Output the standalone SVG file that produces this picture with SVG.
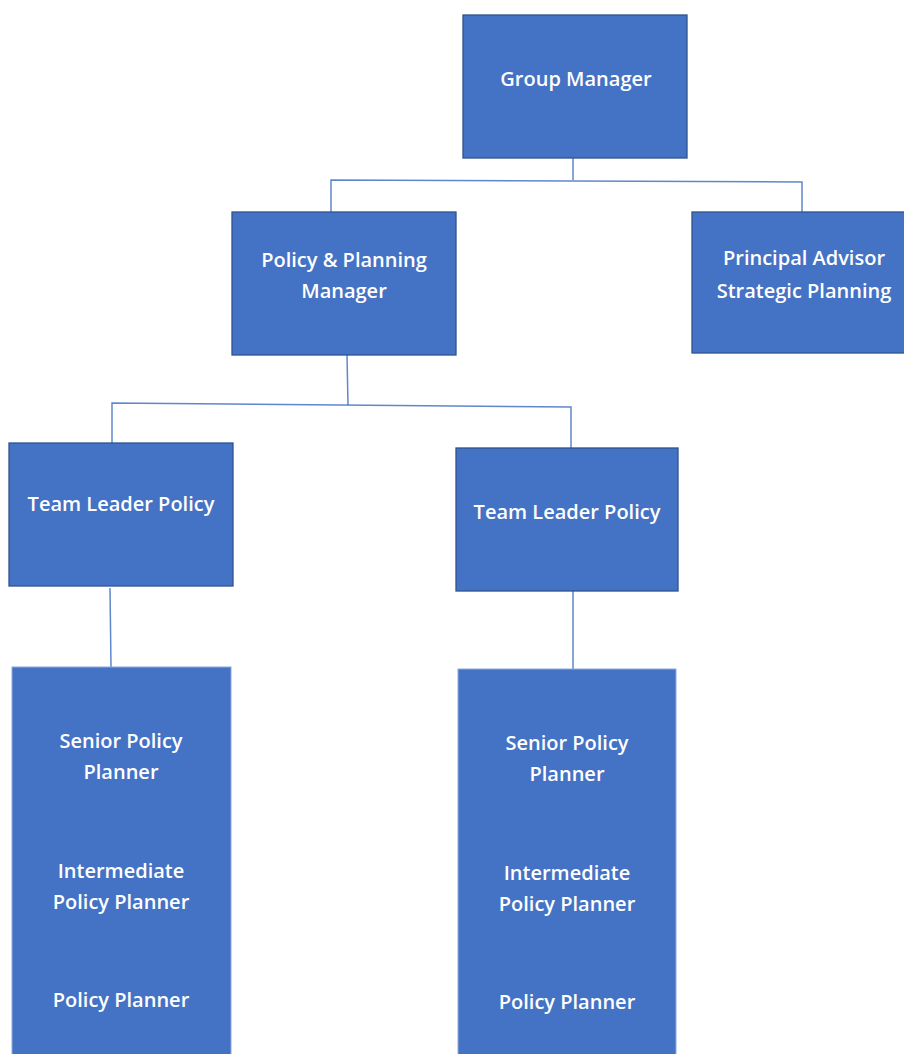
<svg xmlns="http://www.w3.org/2000/svg" width="904" height="1054" viewBox="0 0 904 1054">
<style>
.box{fill:#4472C4;stroke:#2F528F;stroke-width:1.3}
.box2{fill:#4472C4;stroke:#8FAADC;stroke-width:1}
.t{font-family:"Open Sans",Lato,sans-serif;font-size:20px;font-weight:600;fill:#FFFFFF;text-anchor:middle}
.c{fill:none;stroke:#4472C4;stroke-width:1.5;stroke-opacity:0.85}
</style>
<rect width="904" height="1054" fill="#FFFFFF"/>
<g id="connectors">
<polyline class="c" points="573,158 573,180"/>
<polyline class="c" points="331,212 331,180 802,182 802,212"/>
<polyline class="c" points="347,355 348,405"/>
<polyline class="c" points="112,443 112,403 571,407 571,448"/>
<polyline class="c" points="110,588 111,667"/>
<polyline class="c" points="573,591 573,669"/>
</g>
<g id="group-manager">
<rect class="box" x="463" y="15" width="224" height="143"/>
<text class="t" x="576" y="86">Group Manager</text>
</g>
<g id="policy-planning-manager">
<rect class="box" x="232" y="212" width="224" height="143"/>
<text class="t" x="344" y="267">Policy &amp; Planning</text>
<text class="t" x="344" y="298">Manager</text>
</g>
<g id="principal-advisor">
<rect class="box" x="692" y="212" width="220" height="141"/>
<text class="t" x="804" y="265">Principal Advisor</text>
<text class="t" x="804" y="298">Strategic Planning</text>
</g>
<g id="team-leader-1">
<rect class="box" x="9" y="443" width="224" height="143"/>
<text class="t" x="121" y="511">Team Leader Policy</text>
</g>
<g id="team-leader-2">
<rect class="box" x="456" y="448" width="222" height="143"/>
<text class="t" x="567" y="519">Team Leader Policy</text>
</g>
<g id="planners-1">
<rect class="box2" x="12" y="667" width="219" height="400"/>
<text class="t" x="121" y="748">Senior Policy</text>
<text class="t" x="121" y="779">Planner</text>
<text class="t" x="121" y="878">Intermediate</text>
<text class="t" x="121" y="909">Policy Planner</text>
<text class="t" x="121" y="1007">Policy Planner</text>
</g>
<g id="planners-2">
<rect class="box2" x="458" y="669" width="218" height="400"/>
<text class="t" x="567" y="750">Senior Policy</text>
<text class="t" x="567" y="781">Planner</text>
<text class="t" x="567" y="880">Intermediate</text>
<text class="t" x="567" y="911">Policy Planner</text>
<text class="t" x="567" y="1009">Policy Planner</text>
</g>
</svg>
